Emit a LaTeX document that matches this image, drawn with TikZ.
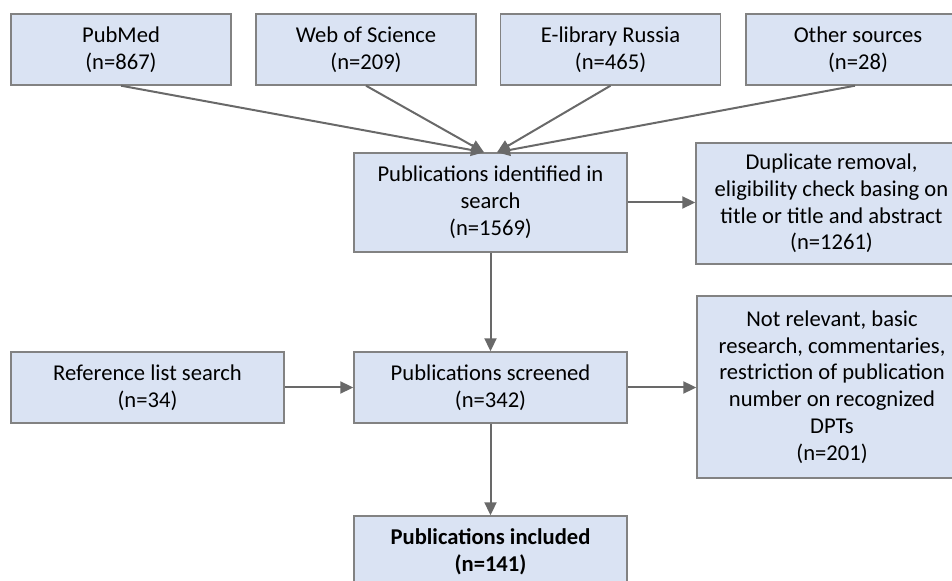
\documentclass[tikz,border=0pt]{standalone}
\usepackage{fontspec}
\setmainfont{Carlito}
\usepackage{xcolor}
\usepackage{tikz}
\usetikzlibrary{arrows.meta}
\definecolor{boxfill}{RGB}{218,227,243}
\definecolor{boxline}{RGB}{130,130,130}
\definecolor{flowline}{RGB}{105,105,105}

\begin{document}
\begin{tikzpicture}[x=0.5pt,y=-0.5pt,
  box/.style={draw=boxline,fill=boxfill,line width=0.7pt,align=center,inner sep=0pt,
    font=\fontsize{11.3}{13.4}\selectfont},
  flow/.style={draw=flowline,line width=1pt,-{Triangle[length=6.5pt,width=6pt]}}]
  \useasboundingbox (0,0) rectangle (952,581);
  % sources
  \node[box,minimum width=110pt,minimum height=35.5pt] (pubmed) at (121,49.5) {PubMed\\(n=867)};
  \node[box,minimum width=110pt,minimum height=35.5pt] (wos) at (366,49.5) {Web of Science\\(n=209)};
  \node[box,minimum width=110pt,minimum height=35.5pt] (elib) at (610.5,49.5) {E-library Russia\\(n=465)};
  \node[box,minimum width=112pt,minimum height=35.5pt] (other) at (858,49.5) {Other sources\\(n=28)};
  % main column
  \node[box,minimum width=136.5pt,minimum height=49.5pt] (ident) at (490.5,202.5)
    {Publications identified in\\search\\(n=1569)};
  \node[box,minimum width=136.5pt,minimum height=35.5pt] (screen) at (490.5,387.5)
    {Publications screened\\(n=342)};
  \node[box,minimum width=136.5pt,minimum height=35.5pt] (incl) at (490.5,551.5)
    {\bfseries Publications included\\\bfseries (n=141)};
  % side boxes
  \node[box,minimum width=136.5pt,minimum height=35.5pt] (refl) at (147.5,387.5)
    {Reference list search\\(n=34)};
  \node[box,minimum width=135.5pt,minimum height=60.5pt] (dupl) at (831.5,203.5)
    {Duplicate removal,\\eligibility check basing on\\title or title and abstract\\(n=1261)};
  \node[box,minimum width=135pt,minimum height=91pt] (notrel) at (832,387)
    {Not relevant, basic\\research, commentaries,\\restriction of publication\\number on recognized\\DPTs\\(n=201)};
  % arrows
  \draw[flow] (pubmed.south) -- ([xshift=-3.25pt]ident.north);
  \draw[flow] (wos.south) -- ([xshift=-3.25pt]ident.north);
  \draw[flow] (elib.south) -- ([xshift=3.25pt]ident.north);
  \draw[flow] ([xshift=-1.5pt]other.south) -- ([xshift=3.25pt]ident.north);
  \draw[flow] (ident.east) -- (ident.east -| dupl.west);
  \draw[flow] (ident) -- (screen);
  \draw[flow] (refl) -- (screen);
  \draw[flow] (screen.east) -- (screen.east -| notrel.west);
  \draw[flow] (screen) -- (incl);
\end{tikzpicture}
\end{document}
